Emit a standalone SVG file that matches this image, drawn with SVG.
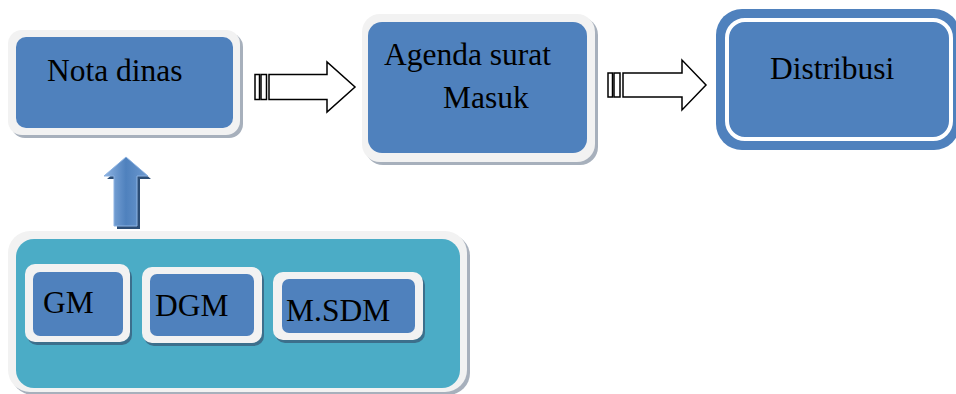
<svg xmlns="http://www.w3.org/2000/svg" width="956" height="394" viewBox="0 0 956 394" font-family="'Liberation Serif', 'DejaVu Serif', serif">
<defs>
<style>
.sh{fill:#a7b0bc}
.rim{fill:#f2f2f2}
.blue{fill:#4f81bd}
.sh2{fill:#3c6f8c}
.t{font-family:'Liberation Serif','DejaVu Serif',serif;font-size:31.5px;fill:#000}
.blk{fill:#fff;stroke:#000;stroke-width:1.5;stroke-linejoin:miter}
</style>
<linearGradient id="ag" x1="0" y1="0" x2="1" y2="0">
<stop offset="0" stop-color="#8fb4e3"/>
<stop offset="0.5" stop-color="#4f81bd"/>
<stop offset="1" stop-color="#6e9ad0"/>
</linearGradient>
</defs>
<rect width="956" height="394" fill="#fff"/>
<g id="nota-dinas">
<rect class="sh" x="11" y="33" width="232" height="105" rx="14"/>
<rect class="rim" x="8" y="30" width="232" height="105" rx="14"/>
<rect class="blue" x="16" y="37" width="217" height="91" rx="10"/>
<text class="t" x="47" y="81" font-family="Liberation Serif">Nota dinas</text>
</g>
<g id="agenda-surat-masuk">
<rect class="sh" x="365" y="17" width="233" height="148" rx="18"/>
<rect class="rim" x="362" y="14" width="233" height="148" rx="18"/>
<rect class="blue" x="368" y="22" width="219" height="131" rx="14"/>
<text class="t" x="384" y="65" font-family="Liberation Serif">Agenda surat</text>
<text class="t" x="443" y="108" font-family="Liberation Serif">Masuk</text>
</g>
<g id="distribusi">
<rect class="blue" x="716" y="9" width="244" height="141" rx="26"/>
<rect x="727" y="20" width="224" height="119" rx="18" fill="#4f81bd" stroke="#fff" stroke-width="4"/>
<text class="t" x="770" y="79" font-family="Liberation Serif">Distribusi</text>
</g>
<g id="pimpinan">
<rect class="sh" x="11" y="234" width="459" height="161" rx="22"/>
<rect class="rim" x="8" y="231" width="459" height="161" rx="22"/>
<rect x="16" y="239" width="444" height="149" rx="18" fill="#4bacc6"/>
<g id="gm">
<rect class="sh2" x="27" y="267" width="105" height="78" rx="10"/>
<rect class="rim" x="25" y="264" width="105" height="78" rx="10"/>
<rect class="blue" x="33" y="272" width="90" height="64" rx="7"/>
<text class="t" x="43" y="313" font-family="Liberation Serif">GM</text>
</g>
<g id="dgm">
<rect class="sh2" x="144" y="270" width="120" height="76" rx="10"/>
<rect class="rim" x="142" y="267" width="120" height="76" rx="10"/>
<rect class="blue" x="150" y="274" width="104" height="62" rx="7"/>
<text class="t" x="155" y="316" font-family="Liberation Serif">DGM</text>
</g>
<g id="msdm">
<rect class="sh2" x="275" y="275" width="150" height="68" rx="10"/>
<rect class="rim" x="273" y="272" width="150" height="68" rx="10"/>
<rect class="blue" x="282" y="279" width="133" height="54" rx="7"/>
<text class="t" x="286" y="321" font-family="Liberation Serif">M.SDM</text>
</g>
</g>
<g id="connectors">
<g id="arrow-up">
<polygon points="129,160 151,179 140,179 140,229 117,229 117,179 107,179" fill="#2c4d75"/>
<polygon points="126,157 148,176 137,176 137,226 114,226 114,176 104,176" fill="url(#ag)" stroke="#8db3e2" stroke-width="1"/>
</g>
<g id="arrow-1">
<rect class="blk" x="255" y="74.5" width="4.5" height="25"/>
<rect class="blk" x="261" y="74.5" width="5.5" height="25"/>
<polygon class="blk" points="269,74.5 327,74.5 327,62 355,87 327,112 327,99.5 269,99.5"/>
</g>
<g id="arrow-2">
<rect class="blk" x="608" y="73" width="4.5" height="24"/>
<rect class="blk" x="614" y="73" width="6" height="24"/>
<polygon class="blk" points="623,73 682,73 682,60 706,85 682,110 682,97 623,97"/>
</g>
</g>
</svg>
